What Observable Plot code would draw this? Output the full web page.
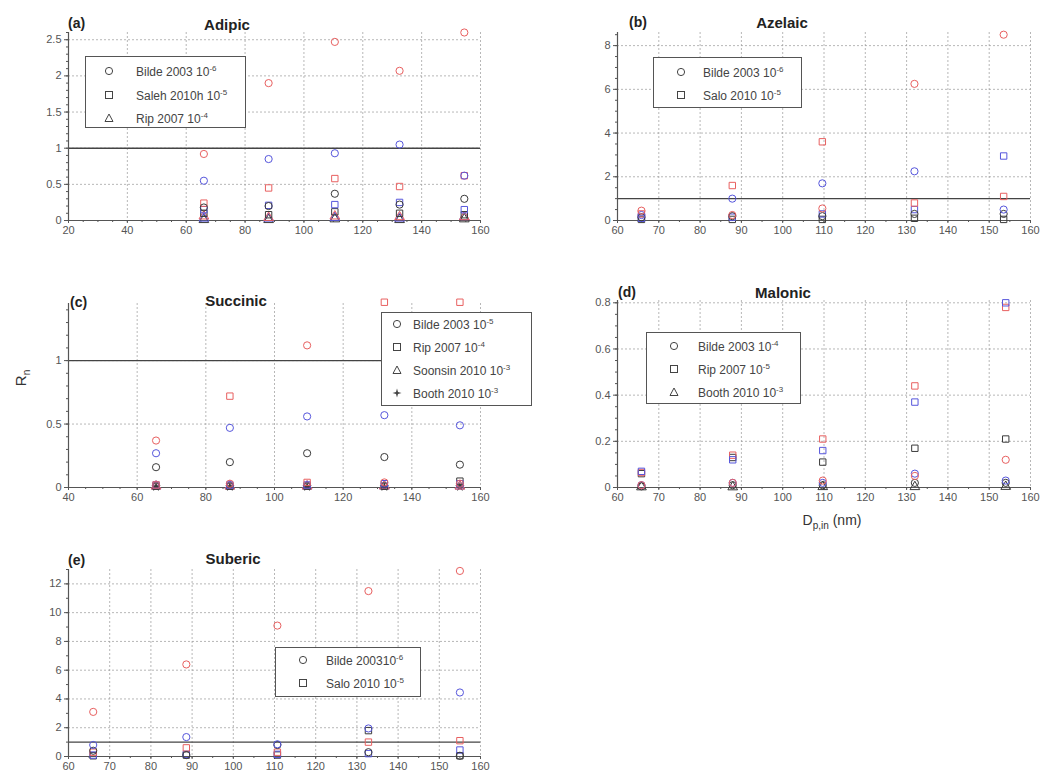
<!DOCTYPE html>
<html><head><meta charset="utf-8">
<script src="https://cdn.jsdelivr.net/npm/d3@7"></script>
<script src="https://cdn.jsdelivr.net/npm/@observablehq/plot@0.6"></script>
<style>
body{margin:0;background:#fff;}
#root{position:relative;width:1048px;height:778px;overflow:hidden;font-family:"Liberation Sans",Arial,sans-serif;color:#333;}
.panel{position:absolute;}
.lbl{position:absolute;white-space:nowrap;line-height:1;}
.ttl{font-weight:bold;font-size:15px;color:#222;transform:translate(-50%,-50%);}
.tag{font-weight:bold;font-size:14px;color:#222;transform:translateY(-50%);}
.legend{position:absolute;border:1.5px solid #555;background:#fff;box-sizing:border-box;}
.row{position:absolute;font-size:12px;white-space:nowrap;color:#444;line-height:1;transform:translateY(-50%);}
.sym{position:absolute;transform:translate(-50%,-50%);}
sup{font-size:8px;vertical-align:5px;line-height:0;}
</style></head><body><div id="root"></div>
<script>
// ---------- data ----------
// (a) Adipic
const xAdipic = [66, 88, 110.5, 132.5, 154.5];
const adipicBildeRed   = [0.92, 1.90, 2.47, 2.07, 2.60];
const adipicBildeBlue  = [0.55, 0.85, 0.93, 1.05, 0.62];
const adipicBildeBlack = [0.18, 0.20, 0.37, 0.22, 0.30];
const adipicSalehRed   = [0.24, 0.45, 0.58, 0.47, 0.62];
const adipicSalehBlue  = [0.15, 0.21, 0.22, 0.25, 0.15];
const adipicSalehBlack = [0.10, 0.08, 0.12, 0.10, 0.08];
const adipicRipRed     = [0.06, 0.04, 0.06, 0.05, 0.05];
const adipicRipBlue    = [0.03, 0.03, 0.04, 0.03, 0.05];
const adipicRipBlack   = [0.01, 0.01, 0.02, 0.01, 0.02];
const adipicLegend = ["Bilde 2003 10<sup>-6</sup>", "Saleh 2010h 10<sup>-5</sup>", "Rip 2007 10<sup>-4</sup>"];

// (b) Azelaic
const xAzelaic = [65.8, 87.8, 109.6, 131.9, 153.5];
const azelaicBildeRed   = [0.45, 0.25, 0.55, 6.25, 8.50];
const azelaicBildeBlue  = [0.25, 1.00, 1.70, 2.25, 0.50];
const azelaicBildeBlack = [0.15, 0.20, 0.20, 0.30, 0.30];
const azelaicSaloRed    = [0.30, 1.60, 3.60, 0.80, 1.10];
const azelaicSaloBlue   = [0.10, 0.15, 0.30, 0.50, 2.95];
const azelaicSaloBlack  = [0.05, 0.05, 0.05, 0.10, 0.05];
const azelaicLegend = ["Bilde 2003 10<sup>-6</sup>", "Salo 2010 10<sup>-5</sup>"];

// (c) Succinic
const xSuccinic = [65.5, 87, 109.5, 132, 154];
const succinicBildeRed   = [0.37, 0.03, 1.12, 0.04, 0.03];
const succinicBildeBlue  = [0.27, 0.47, 0.56, 0.57, 0.49];
const succinicBildeBlack = [0.16, 0.20, 0.27, 0.24, 0.18];
const succinicRipRed     = [0.02, 0.72, 0.04, 1.46, 1.46];
const succinicRipBlue    = [0.02, 0.02, 0.02, 0.03, 0.03];
const succinicRipBlack   = [0.01, 0.01, 0.01, 0.01, 0.05];
const succinicSoonsinRed   = [0.01, 0.01, 0.01, 0.01, 0.01];
const succinicSoonsinBlue  = [0.01, 0.01, 0.01, 0.01, 0.01];
const succinicBoothBlack   = [0.005, 0.005, 0.005, 0.005, 0.005];
const succinicLegend = ["Bilde 2003 10<sup>-5</sup>", "Rip 2007 10<sup>-4</sup>", "Soonsin 2010 10<sup>-3</sup>", "Booth 2010 10<sup>-3</sup>"];

// (d) Malonic
const xMalonic = [65.8, 87.9, 109.7, 132, 154];
const malonicRipRed     = [0.065, 0.14, 0.21, 0.44, 0.78];
const malonicRipBlue    = [0.07, 0.12, 0.16, 0.37, 0.80];
const malonicRipBlack   = [0.06, 0.13, 0.11, 0.17, 0.21];
const malonicBildeRed   = [0.01, 0.02, 0.03, 0.05, 0.12];
const malonicBildeBlue  = [0.01, 0.02, 0.02, 0.06, 0.03];
const malonicBildeBlack = [0.005, 0.01, 0.01, 0.02, 0.02];
const malonicBoothBlack = [0.002, 0.002, 0.003, 0.003, 0.004];
const malonicLegend = ["Bilde 2003 10<sup>-4</sup>", "Rip 2007 10<sup>-5</sup>", "Booth 2010 10<sup>-3</sup>"];

// (e) Suberic
const xSuberic = [66, 88.6, 110.7, 132.8, 155];
const subericBildeRed   = [3.1, 6.4, 9.1, 11.5, 12.9];
const subericBildeBlue  = [0.8, 1.35, 0.85, 1.95, 4.45];
const subericBildeBlack = [0.4, 0.1, 0.8, 0.3, 0.05];
const subericSaloRed    = [0.3, 0.6, 0.3, 1.0, 1.1];
const subericSaloBlue   = [0.1, 0.15, 0.15, 0.2, 0.45];
const subericSaloBlack  = [0.05, 0.1, 0.1, 1.8, 0.05];
const subericLegend = ["Bilde 200310<sup>-6</sup>", "Salo 2010 10<sup>-5</sup>"];

// ---------- styles ----------
const RED = "#e86060", BLUE = "#5656dc", BLACK = "#3a3a3a";
const range = (a, b, s) => d3.range(a, b + s / 2, s).map(v => +v.toFixed(4));

const panels = [
  { left: 0, top: 0, width: 520, height: 250, mL: 68, mR: 40, mT: 32, mB: 30,
    xDomain: [20, 160], xTicks: range(20, 160, 20), xMinor: range(20, 160, 5),
    yDomain: [0, 2.6], yTicks: range(0, 2.5, 0.5), yMinor: range(0, 2.6, 0.1),
    xs: xAdipic, tag: "(a)", title: "Adipic", tagPos: [68, 23], titlePos: [227, 24],
    series: [
      [adipicRipBlack, "triangle", BLACK], [adipicRipBlue, "triangle", BLUE], [adipicRipRed, "triangle", RED],
      [adipicSalehBlack, "square", BLACK], [adipicSalehBlue, "square", BLUE], [adipicSalehRed, "square", RED],
      [adipicBildeBlack, "circle", BLACK], [adipicBildeBlue, "circle", BLUE], [adipicBildeRed, "circle", RED]],
    legend: { left: 85, top: 56, width: 161, height: 72, symX: 23, textX: 50, rows: [15, 39, 62],
      labels: adipicLegend, shapes: ["circle", "square", "triangle"] } },
  { left: 520, top: 0, width: 528, height: 250, mL: 97, mR: 18, mT: 32, mB: 30,
    xDomain: [60, 160], xTicks: range(60, 160, 10), xMinor: range(60, 160, 5),
    yDomain: [0, 8.6], yTicks: range(0, 8, 2), yMinor: range(0, 8.5, 0.5),
    xs: xAzelaic, tag: "(b)", title: "Azelaic", tagPos: [629, 22], titlePos: [782, 22],
    series: [
      [azelaicSaloBlack, "square", BLACK], [azelaicSaloBlue, "square", BLUE], [azelaicSaloRed, "square", RED],
      [azelaicBildeBlack, "circle", BLACK], [azelaicBildeBlue, "circle", BLUE], [azelaicBildeRed, "circle", RED]],
    legend: { left: 653, top: 57, width: 149, height: 51, symX: 27, textX: 49, rows: [15, 38],
      labels: azelaicLegend, shapes: ["circle", "square"] } },
  { left: 0, top: 270, width: 520, height: 250, mL: 68, mR: 40, mT: 33, mB: 33,
    xDomain: [40, 160], xTicks: range(40, 160, 20), xMinor: range(40, 160, 5),
    yDomain: [0, 1.45], yTicks: [0, 0.5, 1], yMinor: range(0, 1.4, 0.1),
    xs: xSuccinic, tag: "(c)", title: "Succinic", tagPos: [70, 302], titlePos: [236, 300],
    series: [
      [succinicBoothBlack, "star", BLACK], [succinicSoonsinBlue, "triangle", BLUE], [succinicSoonsinRed, "triangle", RED],
      [succinicRipBlack, "square", BLACK], [succinicRipBlue, "square", BLUE], [succinicRipRed, "square", RED],
      [succinicBildeBlack, "circle", BLACK], [succinicBildeBlue, "circle", BLUE], [succinicBildeRed, "circle", RED]],
    legend: { left: 381, top: 312, width: 151, height: 94, symX: 15, textX: 31, rows: [12, 35, 58, 81],
      labels: succinicLegend, shapes: ["circle", "square", "triangle", "star"] } },
  { left: 520, top: 270, width: 528, height: 250, mL: 97, mR: 18, mT: 30, mB: 33,
    xDomain: [60, 160], xTicks: range(60, 160, 10), xMinor: range(60, 160, 5),
    yDomain: [0, 0.81], yTicks: range(0, 0.8, 0.2), yMinor: range(0, 0.8, 0.05),
    xs: xMalonic, tag: "(d)", title: "Malonic", tagPos: [618, 292], titlePos: [783, 292],
    series: [
      [malonicBoothBlack, "triangle", BLACK],
      [malonicBildeBlack, "circle", BLACK], [malonicBildeBlue, "circle", BLUE], [malonicBildeRed, "circle", RED],
      [malonicRipBlack, "square", BLACK], [malonicRipRed, "square", RED], [malonicRipBlue, "square", BLUE]],
    legend: { left: 646, top: 332, width: 155, height: 72, symX: 27, textX: 51, rows: [14, 37, 60],
      labels: malonicLegend, shapes: ["circle", "square", "triangle"] } },
  { left: 0, top: 530, width: 520, height: 248, mL: 68, mR: 40, mT: 39, mB: 22,
    xDomain: [60, 160], xTicks: range(60, 160, 10), xMinor: range(60, 160, 5),
    yDomain: [0, 13], yTicks: range(0, 12, 2), yMinor: range(0, 13, 1),
    xs: xSuberic, tag: "(e)", title: "Suberic", tagPos: [68, 560], titlePos: [233, 558],
    series: [
      [subericSaloBlack, "square", BLACK], [subericSaloBlue, "square", BLUE], [subericSaloRed, "square", RED],
      [subericBildeBlack, "circle", BLACK], [subericBildeBlue, "circle", BLUE], [subericBildeRed, "circle", RED]],
    legend: { left: 275, top: 647, width: 146, height: 50, symX: 27, textX: 50, rows: [13, 36],
      labels: subericLegend, shapes: ["circle", "square"] } }
];

const root = document.getElementById("root");
const fmt = d => String(+(+d).toFixed(2));

function symSvg(shape, color) {
  let g;
  if (shape === "circle") g = `<circle cx="6" cy="6" r="3.6" fill="none" stroke="${color}" stroke-width="1"/>`;
  else if (shape === "square") g = `<rect x="2.5" y="2.5" width="7" height="7" fill="none" stroke="${color}" stroke-width="1"/>`;
  else if (shape === "triangle") g = `<polygon points="6,2 10,9.5 2,9.5" fill="none" stroke="${color}" stroke-width="1"/>`;
  else g = `<polygon points="6,1.5 7,5 10.5,6 7,7 6,10.5 5,7 1.5,6 5,5" fill="${color}"/>`;
  return `<svg width="12" height="12" viewBox="0 0 12 12">${g}</svg>`;
}

for (const p of panels) {
  const marks = [
    Plot.gridX(p.xTicks, { stroke: "#9a9a9a", strokeOpacity: 0.9, strokeDasharray: "2,2", strokeWidth: 0.8 }),
    Plot.gridY(p.yTicks.filter(v => v > 0), { stroke: "#9a9a9a", strokeOpacity: 0.9, strokeDasharray: "2,2", strokeWidth: 0.8 }),
  ];
  if (p.yDomain[1] > 1) marks.push(Plot.ruleY([1], { stroke: "#444", strokeWidth: 1.4 }));
  marks.push(
    Plot.axisX(p.xMinor, { tickSize: 2, tickFormat: () => "", label: null, stroke: "#555" }),
    Plot.axisX(p.xTicks, { tickSize: 3, tickPadding: 3, tickFormat: fmt, label: null, stroke: "#555", fill: "#555", fontSize: 11 }),
    Plot.axisY(p.yMinor, { tickSize: 2, tickFormat: () => "", label: null, stroke: "#555" }),
    Plot.axisY(p.yTicks, { tickSize: 4, tickPadding: 3, tickFormat: fmt, label: null, stroke: "#555", fill: "#555", fontSize: 11 }),
    Plot.ruleY([p.yDomain[0]], { stroke: "#555", strokeWidth: 1.2 }),
    Plot.ruleX([p.xDomain[0]], { stroke: "#555", strokeWidth: 1.2 })
  );
  for (const [vals, shape, color] of p.series) {
    const data = vals.map((v, i) => ({ x: p.xs[i], y: v }));
    marks.push(Plot.dot(data, {
      x: "x", y: "y", symbol: shape, r: shape === "star" ? 3 : 3.6,
      stroke: shape === "star" ? "none" : color, fill: shape === "star" ? color : "none", strokeWidth: 1
    }));
  }
  const svg = Plot.plot({
    width: p.width, height: p.height,
    marginLeft: p.mL, marginRight: p.mR, marginTop: p.mT, marginBottom: p.mB,
    x: { domain: p.xDomain }, y: { domain: p.yDomain },
    style: { fontFamily: "'Liberation Sans', Arial, sans-serif", fontSize: "11px", color: "#555", overflow: "visible", background: "transparent" },
    marks
  });
  svg.classList.add("panel");
  svg.style.left = p.left + "px";
  svg.style.top = p.top + "px";
  root.appendChild(svg);

  const tag = document.createElement("div");
  tag.className = "lbl tag"; tag.textContent = p.tag;
  tag.style.left = p.tagPos[0] + "px"; tag.style.top = p.tagPos[1] + "px";
  root.appendChild(tag);
  const ttl = document.createElement("div");
  ttl.className = "lbl ttl"; ttl.textContent = p.title;
  ttl.style.left = p.titlePos[0] + "px"; ttl.style.top = p.titlePos[1] + "px";
  root.appendChild(ttl);
}

for (const p of panels) {
  const L = p.legend;
  const box = document.createElement("div");
  box.className = "legend";
  Object.assign(box.style, { left: L.left + "px", top: L.top + "px", width: L.width + "px", height: L.height + "px" });
  L.labels.forEach((lab, i) => {
    const s = document.createElement("div");
    s.className = "sym"; s.innerHTML = symSvg(L.shapes[i], "#444");
    s.style.left = L.symX + "px"; s.style.top = L.rows[i] + "px";
    box.appendChild(s);
    const t = document.createElement("div");
    t.className = "row"; t.innerHTML = lab;
    t.style.left = L.textX + "px"; t.style.top = L.rows[i] + "px";
    box.appendChild(t);
  });
  root.appendChild(box);
}

// axis labels
const yl = document.createElement("div");
yl.className = "lbl";
yl.innerHTML = "R<sub style='font-size:10px'>n</sub>";
Object.assign(yl.style, { left: "22px", top: "378px", fontSize: "15px", color: "#333", transform: "translate(-50%,-50%) rotate(-90deg)" });
root.appendChild(yl);
const xl = document.createElement("div");
xl.className = "lbl";
xl.innerHTML = "D<sub style='font-size:10px'>p,in</sub> (nm)";
Object.assign(xl.style, { left: "832px", top: "522px", fontSize: "14px", color: "#333", transform: "translate(-50%,-50%)" });
root.appendChild(xl);
</script></body></html>
